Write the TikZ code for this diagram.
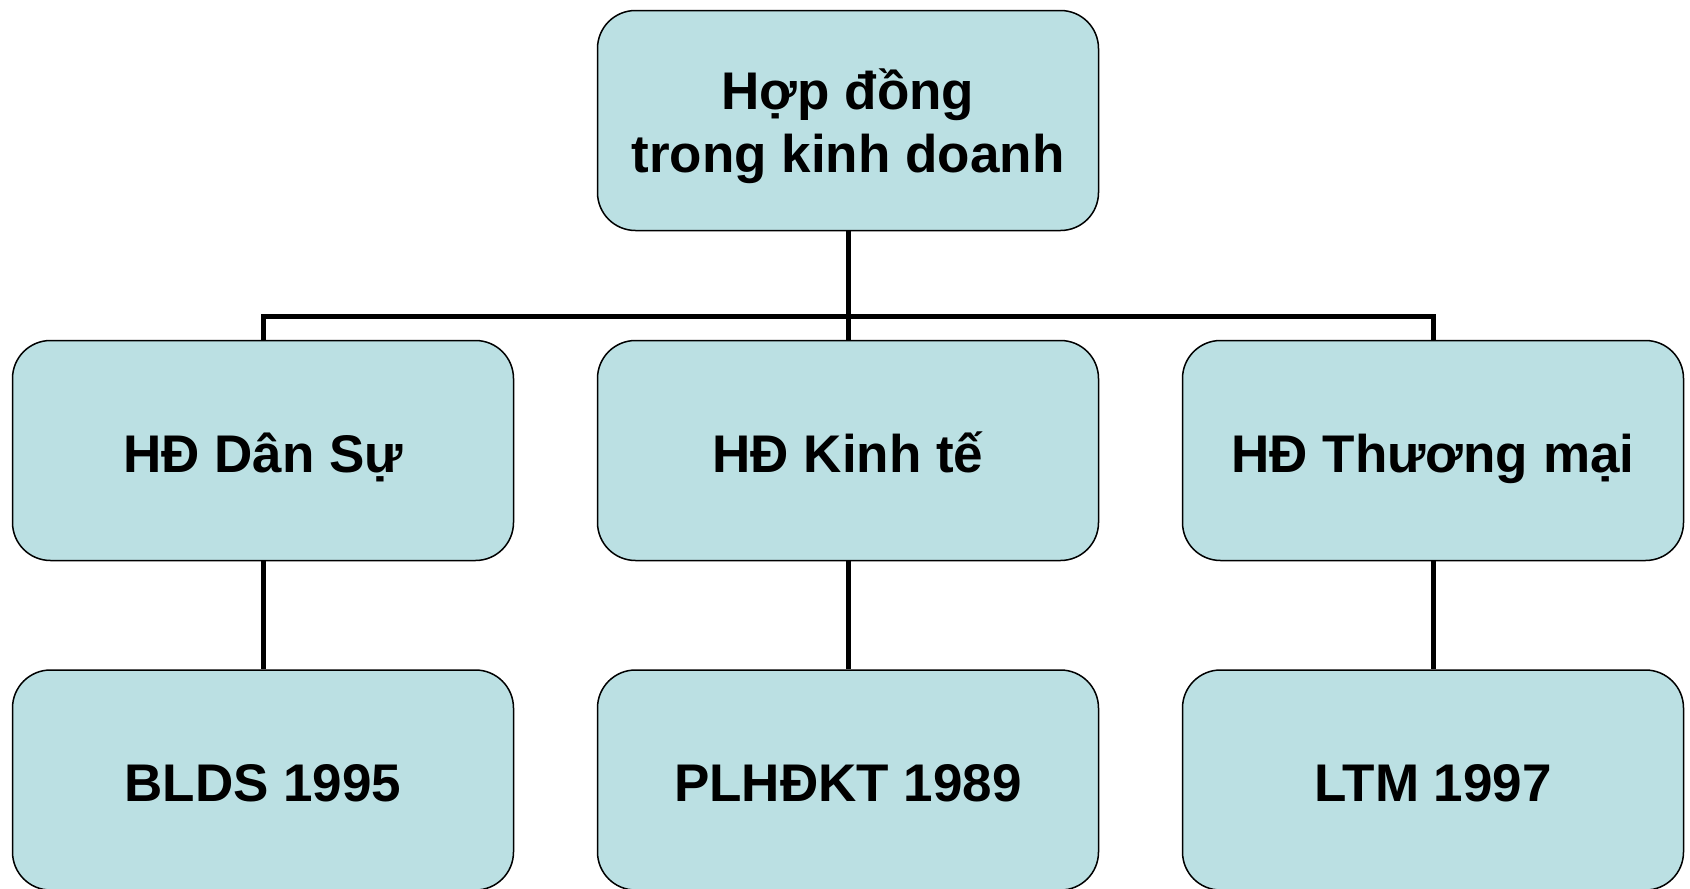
\documentclass[tikz,border=0pt]{standalone}
\usepackage{fontspec}
\setmainfont{Liberation Sans}
\definecolor{boxfill}{RGB}{187,224,227}
\begin{document}
\begin{tikzpicture}[x=1pt,y=-1pt,
  card/.style={draw=black, line width=1.5pt, fill=boxfill, rounded corners=38pt,
    minimum width=501pt, minimum height=220pt, align=center,
    font=\fontsize{53}{63}\selectfont\bfseries},
  oneline/.style={card, text height=52pt, text depth=9pt},
  twoline/.style={card, text depth=0pt},
  link/.style={draw=black, line width=5pt}]
  \fill[white] (0,0) rectangle (1690,889);
  \useasboundingbox (0,0) rectangle (1690,889);
  % turning points of the branching bar
  \coordinate (lt) at (263,316);
  \coordinate (rt) at (1433,316);
  % cards
  \node[twoline] (root) at (848,120.5) {Hợp đồng\\trong kinh doanh};
  \node[oneline] (ds) at (263,450.5) {HĐ Dân Sự};
  \node[oneline] (kt) at (848,450.5) {HĐ Kinh tế};
  \node[oneline] (tm) at (1433,450.5) {HĐ Thương mại};
  \node[oneline] (blds) at (263,780) {BLDS 1995};
  \node[oneline] (pl) at (848,780) {PLHĐKT 1989};
  \node[oneline] (ltm) at (1433,780) {LTM 1997};
  % connectors
  \draw[link] (root.south) -- (kt.north);
  \draw[link, line join=miter] (ds.north) -- (lt) -- (rt) -- (tm.north);
  \draw[link] (ds.south) -- (blds.north);
  \draw[link] (kt.south) -- (pl.north);
  \draw[link] (tm.south) -- (ltm.north);
\end{tikzpicture}
\end{document}
